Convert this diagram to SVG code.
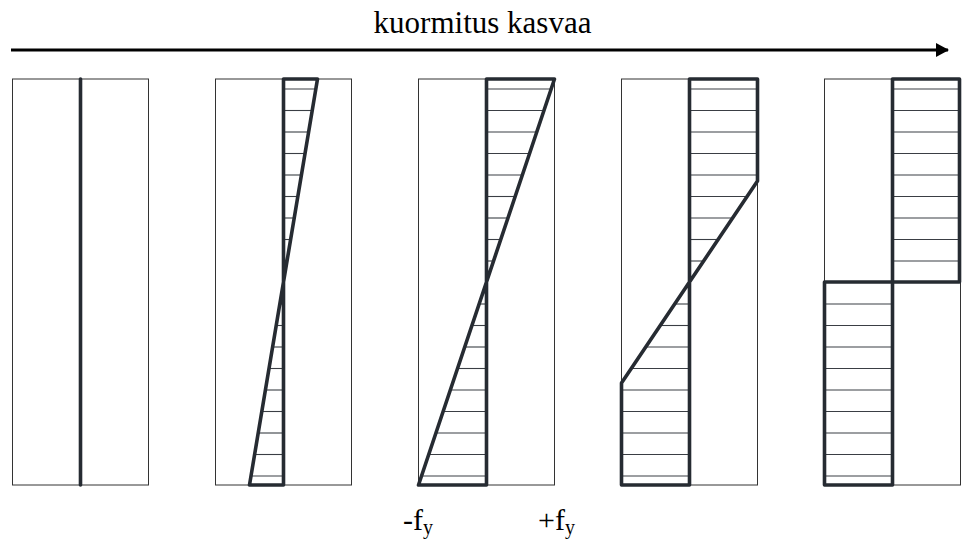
<svg xmlns="http://www.w3.org/2000/svg" width="962" height="540" viewBox="0 0 962 540">
<style>
.frame{fill:none;stroke:#333;stroke-width:1}
.thick{fill:none;stroke:#262b32;stroke-width:3.6;stroke-linejoin:round;stroke-linecap:round}
.hatch{stroke:#3a3e44;stroke-width:1.1}
text{font-family:'Liberation Serif','Times New Roman','DejaVu Serif',serif;fill:#000}
</style>
<defs>
<marker id="ah" markerWidth="14" markerHeight="14" refX="12" refY="7" orient="auto" markerUnits="userSpaceOnUse">
<path d="M0,0 L13,7 L0,14 Z" fill="#000"/>
</marker>
</defs>
<rect width="962" height="540" fill="#fff"/>
<g id="connectors">
<line x1="11" y1="50" x2="948" y2="50" stroke="#000" stroke-width="3" marker-end="url(#ah)"/>
</g>
<text font-family="Liberation Serif, serif" x="482.5" y="33" font-size="31" text-anchor="middle">kuormitus kasvaa</text>

<g id="panel1">
<rect class="frame" x="12.5" y="79" width="136" height="406"/>
<line class="thick" x1="80.5" y1="79" x2="80.5" y2="485"/>
</g>

<g id="panel2">
<rect class="frame" x="215.5" y="79" width="136" height="406"/>
<g class="hatch">
<line x1="283.5" y1="89" x2="315.8" y2="89"/>
<line x1="283.5" y1="110.5" x2="312.2" y2="110.5"/>
<line x1="283.5" y1="132" x2="308.6" y2="132"/>
<line x1="283.5" y1="153.5" x2="305" y2="153.5"/>
<line x1="283.5" y1="175" x2="301.4" y2="175"/>
<line x1="283.5" y1="196.5" x2="297.8" y2="196.5"/>
<line x1="283.5" y1="218" x2="294.2" y2="218"/>
<line x1="283.5" y1="239.5" x2="290.6" y2="239.5"/>
<line x1="283.5" y1="261" x2="287" y2="261"/>
<line x1="279.8" y1="304" x2="283.5" y2="304"/>
<line x1="276.2" y1="325.5" x2="283.5" y2="325.5"/>
<line x1="272.6" y1="347" x2="283.5" y2="347"/>
<line x1="269" y1="368.5" x2="283.5" y2="368.5"/>
<line x1="265.4" y1="390" x2="283.5" y2="390"/>
<line x1="261.8" y1="411.5" x2="283.5" y2="411.5"/>
<line x1="258.2" y1="433" x2="283.5" y2="433"/>
<line x1="254.6" y1="454.5" x2="283.5" y2="454.5"/>
<line x1="251" y1="476" x2="283.5" y2="476"/>
</g>
<polygon class="thick" points="283.5,79 317.5,79 249.5,485 283.5,485"/>
</g>

<g id="panel3">
<rect class="frame" x="418.5" y="79" width="136" height="406"/>
<g class="hatch">
<line x1="486.5" y1="89" x2="551.2" y2="89"/>
<line x1="486.5" y1="110.5" x2="543.9" y2="110.5"/>
<line x1="486.5" y1="132" x2="536.7" y2="132"/>
<line x1="486.5" y1="153.5" x2="529.5" y2="153.5"/>
<line x1="486.5" y1="175" x2="522.3" y2="175"/>
<line x1="486.5" y1="196.5" x2="515.1" y2="196.5"/>
<line x1="486.5" y1="218" x2="507.9" y2="218"/>
<line x1="486.5" y1="239.5" x2="500.7" y2="239.5"/>
<line x1="486.5" y1="261" x2="493.5" y2="261"/>
<line x1="479.1" y1="304" x2="486.5" y2="304"/>
<line x1="471.9" y1="325.5" x2="486.5" y2="325.5"/>
<line x1="464.7" y1="347" x2="486.5" y2="347"/>
<line x1="457.5" y1="368.5" x2="486.5" y2="368.5"/>
<line x1="450.3" y1="390" x2="486.5" y2="390"/>
<line x1="443.1" y1="411.5" x2="486.5" y2="411.5"/>
<line x1="435.9" y1="433" x2="486.5" y2="433"/>
<line x1="428.7" y1="454.5" x2="486.5" y2="454.5"/>
<line x1="421.5" y1="476" x2="486.5" y2="476"/>
</g>
<polygon class="thick" points="486.5,79 554.5,79 418.5,485 486.5,485"/>
</g>

<g id="panel4">
<rect class="frame" x="621.5" y="79" width="136" height="406"/>
<g class="hatch">
<line x1="689.5" y1="89" x2="757.5" y2="89"/>
<line x1="689.5" y1="110.5" x2="757.5" y2="110.5"/>
<line x1="689.5" y1="132" x2="757.5" y2="132"/>
<line x1="689.5" y1="153.5" x2="757.5" y2="153.5"/>
<line x1="689.5" y1="175" x2="757.5" y2="175"/>
<line x1="689.5" y1="196.5" x2="747.1" y2="196.5"/>
<line x1="689.5" y1="218" x2="732.6" y2="218"/>
<line x1="689.5" y1="239.5" x2="718.1" y2="239.5"/>
<line x1="689.5" y1="261" x2="703.6" y2="261"/>
<line x1="674.7" y1="304" x2="689.5" y2="304"/>
<line x1="660.2" y1="325.5" x2="689.5" y2="325.5"/>
<line x1="645.7" y1="347" x2="689.5" y2="347"/>
<line x1="631.3" y1="368.5" x2="689.5" y2="368.5"/>
<line x1="621.5" y1="390" x2="689.5" y2="390"/>
<line x1="621.5" y1="411.5" x2="689.5" y2="411.5"/>
<line x1="621.5" y1="433" x2="689.5" y2="433"/>
<line x1="621.5" y1="454.5" x2="689.5" y2="454.5"/>
<line x1="621.5" y1="476" x2="689.5" y2="476"/>
</g>
<polygon class="thick" points="689.5,79 757.5,79 757.5,181 621.5,383 621.5,485 689.5,485"/>
</g>

<g id="panel5">
<rect class="frame" x="824.5" y="79" width="136" height="406"/>
<g class="hatch">
<line x1="892.5" y1="89" x2="960.5" y2="89"/>
<line x1="892.5" y1="110.5" x2="960.5" y2="110.5"/>
<line x1="892.5" y1="132" x2="960.5" y2="132"/>
<line x1="892.5" y1="153.5" x2="960.5" y2="153.5"/>
<line x1="892.5" y1="175" x2="960.5" y2="175"/>
<line x1="892.5" y1="196.5" x2="960.5" y2="196.5"/>
<line x1="892.5" y1="218" x2="960.5" y2="218"/>
<line x1="892.5" y1="239.5" x2="960.5" y2="239.5"/>
<line x1="892.5" y1="261" x2="960.5" y2="261"/>
<line x1="824.5" y1="304" x2="892.5" y2="304"/>
<line x1="824.5" y1="325.5" x2="892.5" y2="325.5"/>
<line x1="824.5" y1="347" x2="892.5" y2="347"/>
<line x1="824.5" y1="368.5" x2="892.5" y2="368.5"/>
<line x1="824.5" y1="390" x2="892.5" y2="390"/>
<line x1="824.5" y1="411.5" x2="892.5" y2="411.5"/>
<line x1="824.5" y1="433" x2="892.5" y2="433"/>
<line x1="824.5" y1="454.5" x2="892.5" y2="454.5"/>
<line x1="824.5" y1="476" x2="892.5" y2="476"/>
</g>
<polygon class="thick" points="892.5,79 959.5,79 959.5,282 824.5,282 824.5,485 892.5,485"/>
</g>

<text font-family="Liberation Serif, serif" x="403" y="530" font-size="30">-f<tspan font-size="20" dy="4">y</tspan></text>
<text font-family="Liberation Serif, serif" x="538" y="530" font-size="30">+f<tspan font-size="20" dy="4">y</tspan></text>
</svg>
